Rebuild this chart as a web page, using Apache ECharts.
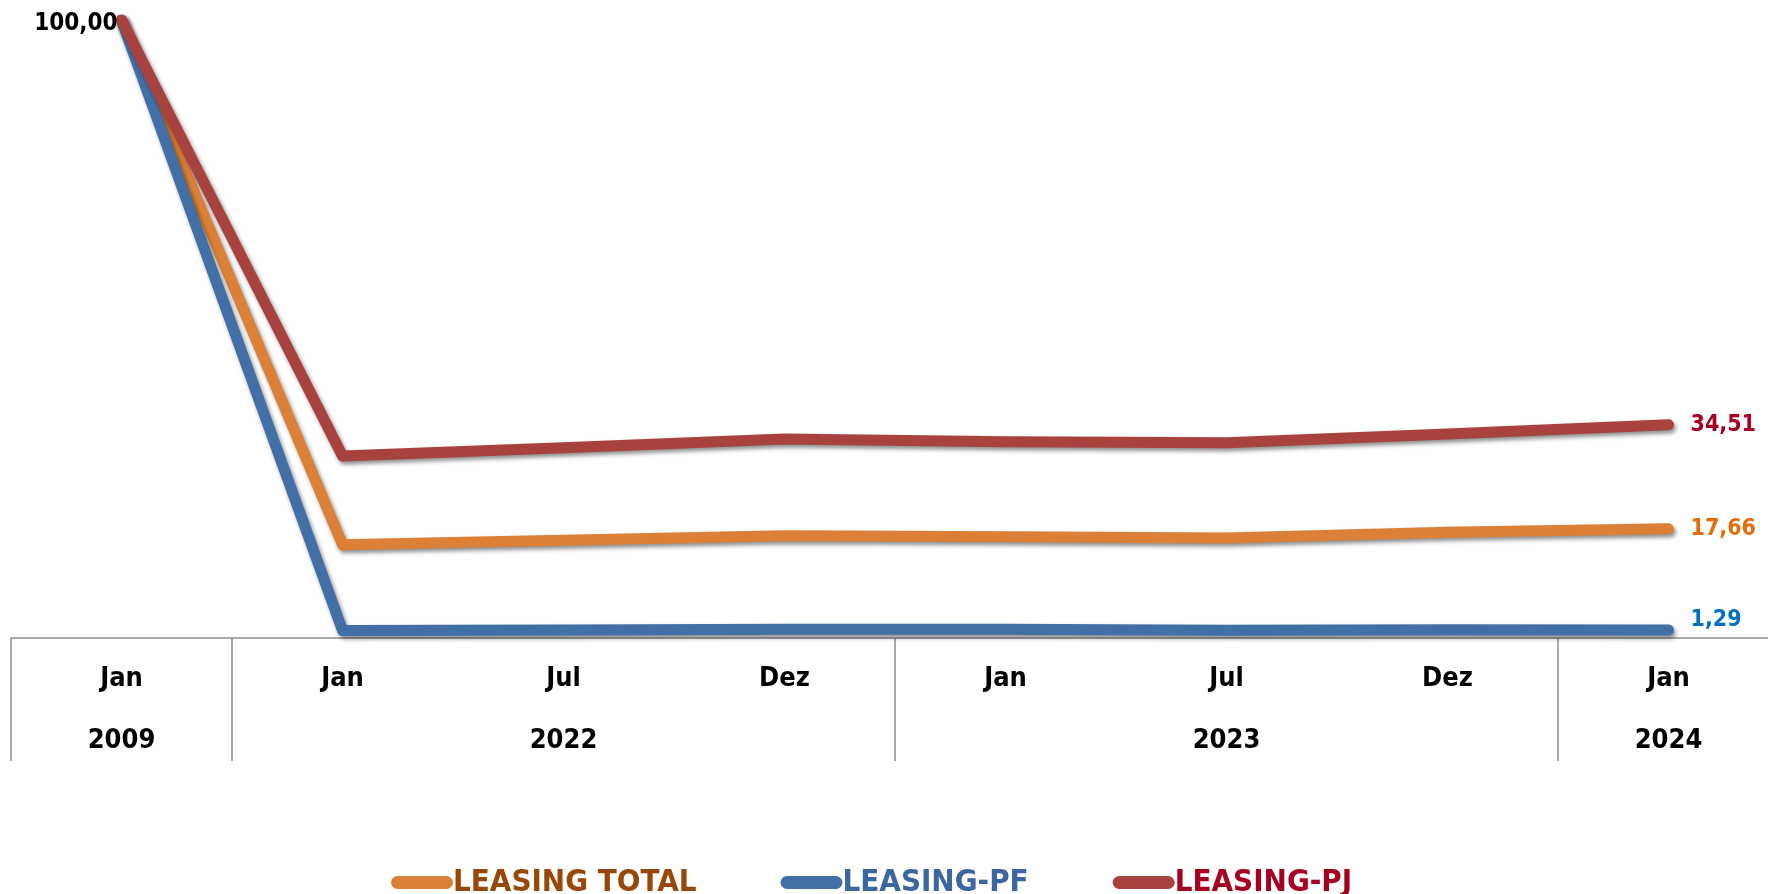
<!DOCTYPE html>
<html>
<head>
<meta charset="utf-8">
<script src="https://cdn.jsdelivr.net/npm/echarts@6/dist/echarts.min.js"></script>
<style>
  html, body { margin: 0; padding: 0; background: #fff; }
  #chart { width: 1768px; height: 894px; }
</style>
</head>
<body>
<div id="chart"></div>
<script>
// meses e anos (duas linhas no eixo)
var months = ['Jan', 'Jan', 'Jul', 'Dez', 'Jan', 'Jul', 'Dez', 'Jan'];
var years = ['2009', '', '2022', '', '', '2023', '', '2024'];
// separadores de ano (indice da categoria que abre o ano)
var yearStarts = [0, 1, 4, 7];

var leasingTotal = [100, 15.1, 15.8, 16.55, 16.4, 16.2, 17.1, 17.66];
var leasingPF = [100, 1.23, 1.3, 1.4, 1.4, 1.25, 1.35, 1.29];
var leasingPJ = [100, 29.45, 30.8, 32.2, 31.75, 31.6, 33.0, 34.51];

var FONT = '"Liberation Sans Narrow", "DejaVu Sans Condensed", Roboto, sans-serif';

function fmt(v) {
	return v.toFixed(2).replace('.', ',');
}

function lineSeries(name, data, color, labelColor, extra) {
	var s = {
		name: name,
		type: 'line',
		data: data,
		symbol: 'circle',
		symbolSize: 0.1,
		itemStyle: { color: color },
		lineStyle: {
			width: 11,
			color: color,
			cap: 'round',
			join: 'round',
			shadowColor: 'rgba(0,0,0,0.45)',
			shadowBlur: 4,
			shadowOffsetX: 2,
			shadowOffsetY: 3
		},
		endLabel: {
			show: true,
			distance: 22,
			color: labelColor,
			fontWeight: 'bold',
			fontSize: 23,
			fontFamily: FONT,
			formatter: function(p) { return fmt(p.value); }
		},
		emphasis: { disabled: true },
		animation: false
	};
	if (extra) {
		for (var k in extra) s[k] = extra[k];
	}
	return s;
}

var option = {
	backgroundColor: '#fff',
	grid: {
		left: 11,
		width: 1768,
		top: 20,
		bottom: 256,
		containLabel: false,
		outerBoundsMode: 'none'
	},
	legend: {
		left: 386,
		top: 862,
		itemWidth: 62,
		itemHeight: 13,
		itemGap: 84,
		icon: 'path://M6.5,0 H55.5 A6.5,6.5 0 0 1 55.5,13 H6.5 A6.5,6.5 0 0 1 6.5,0 Z',
		textStyle: { fontSize: 31, fontWeight: 'bold', fontFamily: FONT, padding: [0, 0, 0, -5] },
		data: [
			{ name: 'LEASING TOTAL', textStyle: { color: '#974806' } },
			{ name: 'LEASING-PF', textStyle: { color: '#3B66A0' } },
			{ name: 'LEASING-PJ', textStyle: { color: '#A50021' } }
		]
	},
	xAxis: {
		type: 'category',
		data: months,
		boundaryGap: true,
		axisLine: { lineStyle: { color: '#8c8c8c', width: 1.5 } },
		axisTick: {
			show: true,
			length: 123,
			lineStyle: { color: '#8c8c8c', width: 1.5 },
			interval: function(i) { return yearStarts.indexOf(i) >= 0; }
		},
		axisLabel: {
			interval: 0,
			margin: 10,
			color: '#000',
			fontWeight: 'bold',
			fontSize: 27,
			fontFamily: FONT,
			lineHeight: 62,
			formatter: function(v, i) { return v + '\n' + (years[i] || ' '); }
		}
	},
	yAxis: {
		type: 'value',
		min: 0,
		max: 100,
		show: false,
		splitLine: { show: false }
	},
	series: [
		lineSeries('LEASING TOTAL', leasingTotal, '#DB8036', '#E46C0A'),
		lineSeries('LEASING-PF', leasingPF, '#426FA6', '#0070C0'),
		lineSeries('LEASING-PJ', leasingPJ, '#A8423F', '#A50021', {
			label: {
				show: true,
				position: 'left',
				distance: 4,
				offset: [0, 4],
				color: '#000',
				fontWeight: 'bold',
				fontSize: 24,
				fontFamily: FONT,
				formatter: function(p) { return p.dataIndex === 0 ? fmt(p.value) : ''; }
			}
		})
	]
};
// deslocar o rótulo do PF um pouco para cima
option.series[1].endLabel.offset = [0, -10];

var chart = echarts.init(document.getElementById('chart'));
chart.setOption(option);
</script>
</body>
</html>
